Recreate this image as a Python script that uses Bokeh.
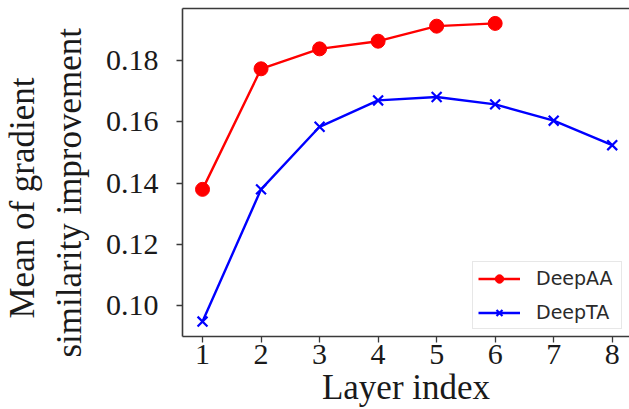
from bokeh.plotting import figure
from bokeh.models import Range1d, LinearAxis, FixedTicker, Legend, Title
from bokeh.embed import file_html
from bokeh.resources import INLINE

layers_aa = [1, 2, 3, 4, 5, 6]
deep_aa = [0.1380, 0.1773, 0.1838, 0.1863, 0.1912, 0.1921]
layers_ta = [1, 2, 3, 4, 5, 6, 7, 8]
deep_ta = [0.0949, 0.1380, 0.1584, 0.1670, 0.1681, 0.1657, 0.1604, 0.1524]
x_ticks = [1, 2, 3, 4, 5, 6, 7, 8]
y_ticks = [0.10, 0.12, 0.14, 0.16, 0.18]
y_tick_labels = {0.10: "0.10", 0.12: "0.12", 0.14: "0.14", 0.16: "0.16", 0.18: "0.18"}
x_title = "Layer index"
y_title_lines = ["Mean of gradient", "similarity improvement"]

SERIF = "Liberation Serif"
SPINE = "#3a3a3a"

p = figure(width=629, height=409, output_backend="svg", toolbar_location=None,
           x_range=Range1d(0.658, 8.295), y_range=Range1d(0.09004, 0.19696),
           min_border_left=182, min_border_right=0, min_border_top=8, min_border_bottom=73)
p.outline_line_color = None
p.grid.visible = False
p.background_fill_color = "white"
p.border_fill_color = "white"

for ax in (p.xaxis[0], p.yaxis[0]):
    ax.axis_line_color = SPINE
    ax.axis_line_width = 1.6
    ax.major_tick_line_color = SPINE
    ax.major_tick_line_width = 1.3
    ax.major_tick_out = 6
    ax.major_tick_in = 0
    ax.minor_tick_out = 0
    ax.minor_tick_in = 0
    ax.major_label_text_font = SERIF
    ax.major_label_text_font_size = "30px"
    ax.major_label_text_color = "#1a1a1a"

p.xaxis.ticker = FixedTicker(ticks=x_ticks)
p.yaxis.ticker = FixedTicker(ticks=y_ticks)
p.yaxis.major_label_overrides = y_tick_labels
p.xaxis.major_label_standoff = 2
p.yaxis.major_label_standoff = 18

p.xaxis.axis_label = x_title
p.xaxis.axis_label_text_font = SERIF
p.xaxis.axis_label_text_font_size = "35px"
p.xaxis.axis_label_text_font_style = "normal"
p.xaxis.axis_label_text_color = "#1a1a1a"
p.xaxis.axis_label_standoff = 1

top = LinearAxis(ticker=FixedTicker(ticks=[]), axis_line_color=SPINE, axis_line_width=1.6,
                 major_tick_out=0, major_tick_in=0, minor_tick_out=0, minor_tick_in=0)
p.add_layout(top, "above")

# inner line first (closest to the axis), then the outer line
p.add_layout(Title(text=y_title_lines[1], align="left", offset=-21, text_font=SERIF,
                   text_font_size="35px", text_font_style="normal", text_color="#1a1a1a",
                   standoff=27), "left")
p.add_layout(Title(text=y_title_lines[0], align="left", offset=18, text_font=SERIF,
                   text_font_size="35px", text_font_style="normal", text_color="#1a1a1a",
                   standoff=-15), "left")

r1 = p.line(layers_aa, deep_aa, line_color="#ff0000", line_width=2.4)
r2 = p.scatter(layers_aa, deep_aa, marker="circle", size=14, fill_color="#ff0000", line_color="#ff0000")
r3 = p.line(layers_ta, deep_ta, line_color="#0000ff", line_width=2.4)
r4 = p.scatter(layers_ta, deep_ta, marker="x", size=14, line_color="#0000ff", line_width=2.2)

legend = Legend(items=[("DeepAA", [r1, r2]), ("DeepTA", [r3, r4])], location="bottom_right")
legend.margin = 7
legend.padding = 5
legend.spacing = 12
legend.glyph_width = 42
legend.glyph_height = 21
legend.label_height = 21
legend.label_width = 80
legend.label_standoff = 16
legend.label_text_font = "DejaVu Sans"
legend.label_text_font_size = "19px"
legend.label_text_color = "#2a2a2a"
legend.label_text_baseline = "middle"
legend.border_line_color = "#d0d0d0"
legend.border_line_width = 1.2
legend.background_fill_alpha = 0.85
p.add_layout(legend, "center")

open("out.html", "w").write(file_html(p, INLINE))
